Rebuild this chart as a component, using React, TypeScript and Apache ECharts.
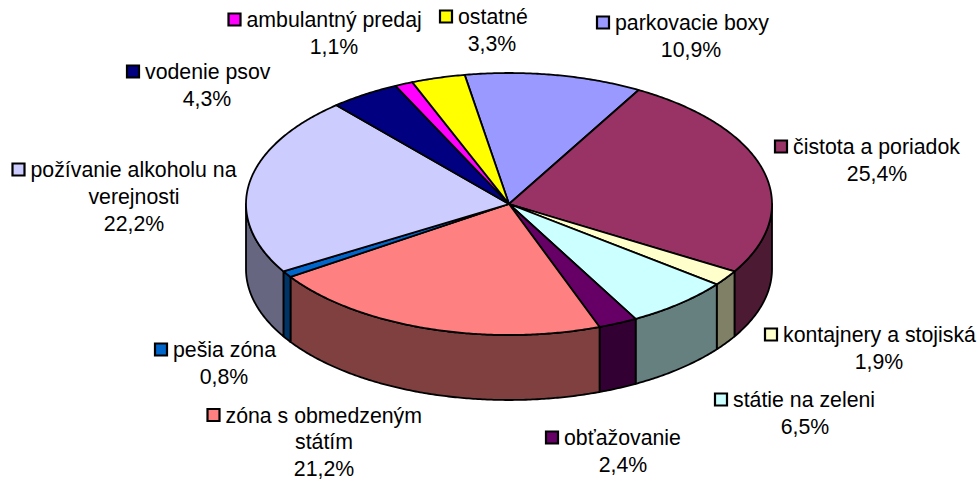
import React, { useEffect, useRef } from "react";
import * as echarts from "echarts";

const categories = [
  "parkovacie boxy",
  "čistota a poriadok",
  "kontajnery a stojiská",
  "státie na zeleni",
  "obťažovanie",
  "zóna s obmedzeným štátím",
  "pešia zóna",
  "požívanie alkoholu na verejnosti",
  "vodenie psov",
  "ambulantný predaj",
  "ostatné",
];
const values = [10.9, 25.4, 1.9, 6.5, 2.4, 21.2, 0.8, 22.2, 4.3, 1.1, 3.3];
const topColors = ["#9999FF", "#993366", "#FFFFCC", "#CCFFFF", "#660066", "#FF8080", "#0066CC", "#CCCCFF", "#000080", "#FF00FF", "#FFFF00"];
const sideColors = ["#4C4C80", "#4D1A33", "#808066", "#668080", "#330033", "#804040", "#003366", "#666680", "#000040", "#800080", "#808000"];
const labelLines = [
  ["parkovacie boxy"],
  ["čistota a poriadok"],
  ["kontajnery a stojiská"],
  ["státie na zeleni"],
  ["obťažovanie"],
  ["zóna s obmedzeným", "státím"],
  ["pešia zóna"],
  ["požívanie alkoholu na", "verejnosti"],
  ["vodenie psov"],
  ["ambulantný predaj"],
  ["ostatné"],
];
// left edge of the key, first text line's middle y, centre x of the block
const labelAnchors = [
  [597.5, 23, 682],
  [775.5, 147, 868],
  [765.5, 335, 870],
  [715.5, 400, 796],
  [546.5, 438, 614],
  [208, 415.5, 315],
  [155.5, 350, 215],
  [13, 170, 125],
  [127.5, 72, 198],
  [229, 20, 325],
  [440.5, 17, 483],
];

const CX = 509, CY = 204, RX = 263, RY = 131, DEPTH = 65, START = -9.7;
const FONT = '"Liberation Sans", Arial, sans-serif';
const FONT_SIZE = 21.3;
const LINE_H = 26.8;

const total = values.reduce((a, b) => a + b, 0);
const angleOf = (share: number) => (share / total) * 360;
const startAngles: number[] = [];
values.reduce((acc, v, i) => {
  startAngles[i] = START + angleOf(acc);
  return acc + v;
}, 0);

const pt = (deg: number, dy = 0): number[] => {
  const r = (deg * Math.PI) / 180;
  return [CX + RX * Math.sin(r), CY - RY * Math.cos(r) + dy];
};
const arc = (a: number, b: number, dy = 0): number[][] => {
  const out: number[][] = [];
  const n = Math.max(2, Math.ceil(Math.abs(b - a) * 2));
  for (let i = 0; i <= n; i++) out.push(pt(a + ((b - a) * i) / n, dy));
  return out;
};

const renderWall = (_: any, api: any) => {
  const i = api.value(0);
  const v = api.value(1);
  const a = Math.max(startAngles[i], 90);
  const b = Math.min(startAngles[i] + angleOf(v), 270);
  if (b <= a) return { type: "group", children: [] };
  return {
    type: "polygon",
    shape: { points: [...arc(a, b), ...arc(b, a, DEPTH)] },
    style: { fill: sideColors[i], stroke: "#000", lineWidth: 1.8, lineJoin: "round" },
  };
};

const renderTop = (_: any, api: any) => {
  const i = api.value(0);
  const v = api.value(1);
  const a = startAngles[i];
  return {
    type: "polygon",
    shape: { points: [[CX, CY], ...arc(a, a + angleOf(v))] },
    style: { fill: topColors[i], stroke: "#000", lineWidth: 1.8, lineJoin: "round" },
  };
};

const pct = (v: number) => v.toFixed(1).replace(".", ",") + "%";

const buildLabels = () => {
  const els: any[] = [];
  categories.forEach((_, i) => {
    const [kx, y, cx] = labelAnchors[i];
    const lines = labelLines[i];
    els.push({
      type: "rect",
      shape: { x: kx - 0.5, y: y - 6.5, width: 12, height: 12 },
      style: { fill: topColors[i], stroke: "#000", lineWidth: 2.2 },
    });
    els.push({
      type: "text",
      x: kx + 17.5,
      y,
      style: { text: lines[0], fill: "#000", font: `${FONT_SIZE}px ${FONT}`, textAlign: "left", textVerticalAlign: "middle" },
    });
    lines.slice(1).forEach((line, j) => {
      els.push({
        type: "text",
        x: cx + 9,
        y: y + LINE_H * (j + 1),
        style: { text: line, fill: "#000", font: `${FONT_SIZE}px ${FONT}`, textAlign: "center", textVerticalAlign: "middle" },
      });
    });
    els.push({
      type: "text",
      x: cx + 9,
      y: y + LINE_H * lines.length,
      style: { text: pct(values[i]), fill: "#000", font: `${FONT_SIZE}px ${FONT}`, textAlign: "center", textVerticalAlign: "middle" },
    });
  });
  return els;
};

export default function App() {
  const ref = useRef<HTMLDivElement>(null);
  useEffect(() => {
    document.body.style.margin = "0";
    const chart = echarts.init(ref.current!, null, { renderer: "svg" });
    const data = values.map((v, i) => [i, v]);
    chart.setOption({
      animation: false,
      backgroundColor: "#fff",
      series: [
        { type: "custom", coordinateSystem: "none", renderItem: renderWall, data, z: 1, silent: true },
        { type: "custom", coordinateSystem: "none", renderItem: renderTop, data, z: 2, silent: true },
      ],
      graphic: { elements: buildLabels() },
    });
    return () => chart.dispose();
  }, []);
  return <div ref={ref} style={{ width: 978, height: 480 }} />;
}
